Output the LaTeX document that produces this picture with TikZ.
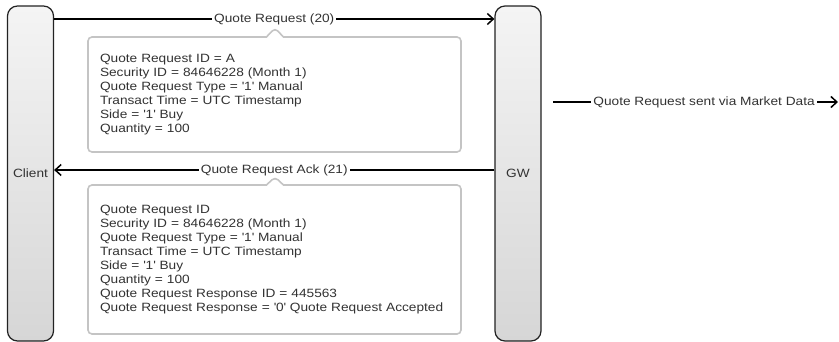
\documentclass[tikz,border=0pt]{standalone}
\usepackage{fontspec}
\setmainfont{Liberation Sans}[FakeStretch=1.14]
\usetikzlibrary{arrows.meta, shapes.callouts}
\definecolor{lane-line}{HTML}{222222}
\definecolor{lane-top}{HTML}{F4F4F4}
\definecolor{lane-bottom}{HTML}{D6D6D6}
\definecolor{note-line}{HTML}{C4C4C4}
\definecolor{msg-text}{HTML}{333333}
\newcommand{\sq}{\textquotesingle}

\begin{document}
\begin{tikzpicture}[x=1pt, y=-1pt,
      every node/.style={font=\fontsize{12pt}{14pt}\selectfont, text=msg-text},
      lane/.style={draw=lane-line, line width=1.2pt, rounded corners=10pt,
          top color=lane-top, bottom color=lane-bottom, minimum width=46pt},
      msg/.style={line width=1.5pt, -{Straight Barb[length=6pt, width=11pt, line width=1.5pt]}},
      msglabel/.style={fill=white, inner sep=2pt},
      note/.style={rectangle callout, draw=note-line, line width=1.6pt, fill=white,
          rounded corners=4pt, callout pointer width=17pt, minimum width=373pt,
          text width=349pt, inner xsep=12pt, align=left}]
    \useasboundingbox (0,0) rectangle (839,342);
    \node[lane, minimum height=335pt] (CLIENT) at (30.5,173.5) {Client};
    \node[lane, minimum height=335pt] (GW) at (518,173.5) {GW};

    \draw[msg] (CLIENT.east |- 0,19) -- (GW.west |- 0,19)
        node[msglabel, pos=0.5] (REQ) {Quote Request (20)};
    \node[note, minimum height=115pt, callout absolute pointer={(275,28)}]
        (REQNOTE) at (274.5,94.5)
        {Quote Request ID = A\\
         Security ID = 84646228 (Month 1)\\
         Quote Request Type = \sq1\sq{} Manual\\
         Transact Time = UTC Timestamp\\
         Side = \sq1\sq{} Buy\\
         Quantity = 100};

    \draw[msg] (GW.west |- 0,170) -- (CLIENT.east |- 0,170)
        node[msglabel, pos=0.5] (ACK) {Quote Request Ack (21)};
    \node[note, minimum height=149pt, callout absolute pointer={(275,177)}]
        (ACKNOTE) at (274.5,259.5)
        {Quote Request ID\\
         Security ID = 84646228 (Month 1)\\
         Quote Request Type = \sq1\sq{} Manual\\
         Transact Time = UTC Timestamp\\
         Side = \sq1\sq{} Buy\\
         Quantity = 100\\
         Quote Request Response ID = 445563\\
         Quote Request Response = \sq0\sq{} Quote Request Accepted};

    % market data feed
    \coordinate (MDSTART) at (553,102);
    \coordinate (MDEND) at (838,102);
    \draw[msg] (MDSTART) -- (MDEND)
        node[msglabel, pos=0.53] (MD) {Quote Request sent via Market Data};
\end{tikzpicture}
\end{document}
